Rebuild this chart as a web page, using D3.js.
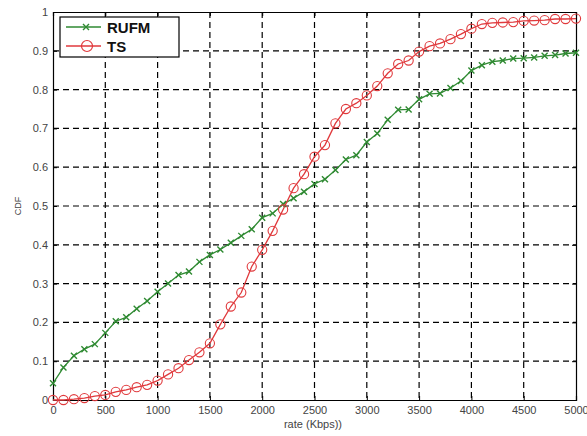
<html>
<head>
<meta charset="utf-8"/>
<title>CDF of rate</title>
<script src="https://cdn.jsdelivr.net/npm/d3@7"></script>
<style>
  body { margin: 0; background: #fff; }
  text { font-family: "Liberation Sans", Arial, sans-serif; }
</style>
</head>
<body>
<svg id="chart" width="587" height="436"></svg>
<script>
// rate samples (Kbps)
var rates = [0,100,200,300,400,500,600,700,800,900,1000,1100,1200,1300,1400,1500,1600,1700,1800,1900,
             2000,2100,2200,2300,2400,2500,2600,2700,2800,2900,3000,3100,3200,3300,3400,3500,3600,3700,3800,3900,
             4000,4100,4200,4300,4400,4500,4600,4700,4800,4900,5000];
var rufm = [0.043,0.084,0.114,0.131,0.144,0.173,0.203,0.213,0.235,0.255,0.279,0.300,0.322,0.331,0.356,0.374,0.388,0.405,0.423,0.440,
            0.470,0.481,0.505,0.520,0.537,0.557,0.569,0.593,0.620,0.631,0.665,0.687,0.722,0.748,0.749,0.775,0.789,0.790,0.804,0.822,
            0.849,0.863,0.872,0.875,0.880,0.881,0.883,0.887,0.889,0.893,0.895];
var ts = [0,0,0.002,0.005,0.010,0.013,0.021,0.026,0.033,0.039,0.050,0.066,0.082,0.103,0.123,0.146,0.195,0.241,0.277,0.344,
          0.387,0.436,0.491,0.546,0.582,0.627,0.657,0.713,0.750,0.765,0.785,0.809,0.842,0.866,0.875,0.898,0.912,0.919,0.930,0.943,
          0.957,0.969,0.972,0.973,0.974,0.977,0.978,0.979,0.982,0.982,0.983];
var xTicks = [0,500,1000,1500,2000,2500,3000,3500,4000,4500,5000];
var yTicks = [0,0.1,0.2,0.3,0.4,0.5,0.6,0.7,0.8,0.9,1];

var green = "#2f8a32", red = "#e0393c";
var L = 53, R = 576, T = 12, B = 400;

var svg = d3.select("#chart");
var x = d3.scaleLinear().domain([0, 5000]).range([L, R]);
var y = d3.scaleLinear().domain([0, 1]).range([B, T]);

// grid
svg.append("g").selectAll("line").data(xTicks.slice(1, -1)).enter().append("line")
  .attr("x1", d => x(d)).attr("x2", d => x(d)).attr("y1", T).attr("y2", B)
  .attr("stroke", "#000").attr("stroke-width", 1.2).attr("stroke-dasharray", "6,4");
svg.append("g").selectAll("line").data(yTicks.slice(1, -1)).enter().append("line")
  .attr("y1", d => y(d)).attr("y2", d => y(d)).attr("x1", L).attr("x2", R)
  .attr("stroke", "#000").attr("stroke-width", 1.2).attr("stroke-dasharray", "6,4");

// axes (ticks inward, matlab style)
var ax = svg.append("g").attr("transform", "translate(0," + B + ")")
  .call(d3.axisBottom(x).tickValues(xTicks).tickSize(-4).tickPadding(6).tickFormat(d3.format("d")));
var ay = svg.append("g").attr("transform", "translate(" + L + ",0)")
  .call(d3.axisLeft(y).tickValues(yTicks).tickSize(-4).tickPadding(5).tickFormat(d => d === 0 || d === 1 ? d : d3.format(".1f")(d)));
svg.append("g").attr("transform", "translate(0," + T + ")")
  .call(d3.axisTop(x).tickValues(xTicks).tickSize(-4).tickFormat(""));
svg.append("g").attr("transform", "translate(" + R + ",0)")
  .call(d3.axisRight(y).tickValues(yTicks).tickSize(-4).tickFormat(""));
svg.selectAll(".domain").attr("stroke", "#000").attr("stroke-width", 1.2);
svg.selectAll(".tick line").attr("stroke", "#000");
svg.selectAll(".tick text").attr("font-size", 11).attr("fill", "#444")
  .attr("font-family", "'Liberation Sans', Arial, sans-serif");

// lines
var line = d3.line().x((d, i) => x(rates[i])).y(d => y(d));
svg.append("path").datum(rufm).attr("d", line).attr("fill", "none")
  .attr("stroke", green).attr("stroke-width", 1.3);
svg.append("path").datum(ts).attr("d", line).attr("fill", "none")
  .attr("stroke", red).attr("stroke-width", 1.3);

function crossPath(cx, cy) {
  var s = 3;
  return "M" + (cx - s) + "," + (cy - s) + "L" + (cx + s) + "," + (cy + s) +
         "M" + (cx - s) + "," + (cy + s) + "L" + (cx + s) + "," + (cy - s);
}
svg.append("g").selectAll("path").data(rufm).enter().append("path")
  .attr("d", (d, i) => crossPath(x(rates[i]), y(d)))
  .attr("stroke", green).attr("stroke-width", 1.4).attr("fill", "none");
svg.append("g").selectAll("circle").data(ts).enter().append("circle")
  .attr("cx", (d, i) => x(rates[i])).attr("cy", d => y(d)).attr("r", 4.6)
  .attr("fill", "none").attr("stroke", red).attr("stroke-width", 1.1);

// labels
svg.append("text").attr("x", 313).attr("y", 428).attr("text-anchor", "middle")
  .attr("font-size", 11).attr("fill", "#444").text("rate (Kbps))");
svg.append("text").attr("transform", "translate(21,206) rotate(-90)").attr("text-anchor", "middle")
  .attr("font-size", 9).attr("fill", "#444").text("CDF");

// legend
var lg = svg.append("g");
lg.append("rect").attr("x", 60).attr("y", 17).attr("width", 119).attr("height", 40)
  .attr("fill", "#fff").attr("stroke", "#000").attr("stroke-width", 1.2);
lg.append("line").attr("x1", 66).attr("x2", 101).attr("y1", 27).attr("y2", 27)
  .attr("stroke", green).attr("stroke-width", 1.3);
lg.append("path").attr("d", crossPath(86, 27)).attr("stroke", green).attr("stroke-width", 1.4);
lg.append("line").attr("x1", 66).attr("x2", 101).attr("y1", 46).attr("y2", 46)
  .attr("stroke", red).attr("stroke-width", 1.3);
lg.append("circle").attr("cx", 87).attr("cy", 46).attr("r", 5.5)
  .attr("fill", "none").attr("stroke", red).attr("stroke-width", 1.2);
lg.append("text").attr("x", 107).attr("y", 33).attr("font-size", 15).attr("font-weight", "bold")
  .attr("fill", "#111").text("RUFM");
lg.append("text").attr("x", 107).attr("y", 52).attr("font-size", 15).attr("font-weight", "bold")
  .attr("fill", "#111").text("TS");
</script>
</body>
</html>
